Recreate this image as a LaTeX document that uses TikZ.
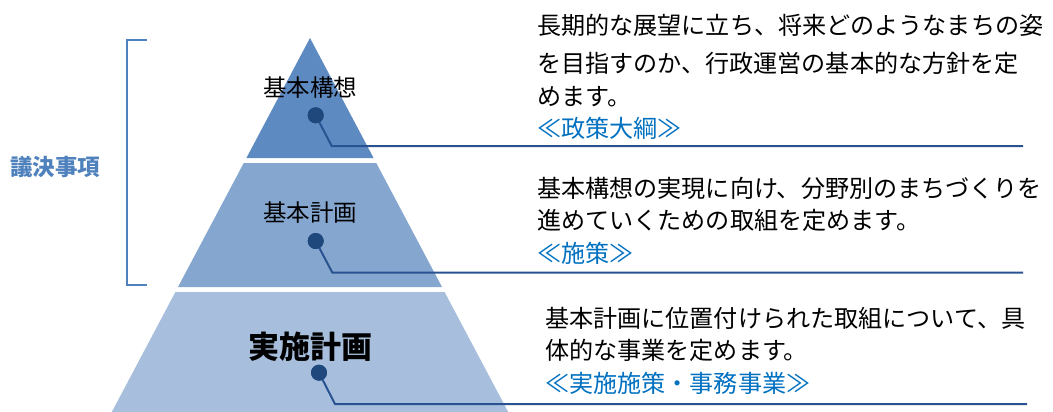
\documentclass[tikz,border=0pt]{standalone}
\usepackage{fontspec}
\setmainfont{Noto Sans CJK JP}
\begin{document}
\begin{tikzpicture}[x=1pt,y=-1pt,
  lvlA/.style={fill={rgb,255:red,94;green,138;blue,194}},
  lvlB/.style={fill={rgb,255:red,133;green,166;blue,206}},
  lvlC/.style={fill={rgb,255:red,167;green,191;blue,221}},
  dotnode/.style={circle,fill={rgb,255:red,31;green,73;blue,125},minimum size=16pt,inner sep=0pt},
  leader/.style={draw={rgb,255:red,41;green,82;blue,145},line width=2pt},
  bracketline/.style={draw={rgb,255:red,79;green,129;blue,189},line width=2pt},
  lvltxt/.style={font=\fontsize{23.5}{28}\selectfont,inner sep=0pt},
  desc/.style={font=\fontsize{24.1}{28}\selectfont,inner sep=0pt,anchor=west},
  tag/.style={desc,text={rgb,255:red,0;green,112;blue,192}}
]
\useasboundingbox (0,0) rectangle (1053,412);
% pyramid
\path[lvlA] (310,38) -- (373.6,158) -- (246.4,158) -- cycle;
\path[lvlB] (243.75,163) -- (376.25,163) -- (442,287) -- (178,287) -- cycle;
\path[lvlC] (175.4,292) -- (444.6,292) -- (508.2,412) -- (111.8,412) -- cycle;
% level labels
\node[lvltxt] (l1) at (310,88) {基本構想};
\node[lvltxt] (l2) at (310,213) {基本計画};
\node[lvltxt,font=\fontsize{31}{36}\selectfont\bfseries] (l3) at (310,346.5) {実施計画};
% dots and leaders
\node[dotnode] (d1) at (315.7,115.3) {};
\node[dotnode] (d2) at (315.7,241) {};
\node[dotnode] (d3) at (319,372.7) {};
\coordinate (b1) at (331.7,146);
\coordinate (e1) at (1023,146);
\coordinate (b2) at (332.3,272.5);
\coordinate (e2) at (1023,272.5);
\coordinate (b3) at (335,404);
\coordinate (e3) at (1027,404);
\draw[leader] (d1.center) -- (b1) -- (e1);
\draw[leader] (d2.center) -- (b2) -- (e2);
\draw[leader] (d3.center) -- (b3) -- (e3);
\node[dotnode] at (d1) {};
\node[dotnode] at (d2) {};
\node[dotnode] at (d3) {};
% bracket
\coordinate (k1) at (147,40);
\coordinate (k2) at (127,40);
\coordinate (k3) at (127,285);
\coordinate (k4) at (147,285);
\draw[bracketline] (k1) -- (k2) -- (k3) -- (k4);
\node[font=\fontsize{22.5}{26}\selectfont\bfseries,text={rgb,255:red,79;green,129;blue,189},inner sep=0pt] (dec) at (55,167) {議決事項};
% descriptions
\node[desc] (t1a) at (537,25.5) {長期的な展望に立ち、将来どのようなまちの姿};
\node[desc] (t1b) at (537,63) {を目指すのか、行政運営の基本的な方針を定};
\node[desc] (t1c) at (537,96.5) {めます。};
\node[tag] (t1d) at (537,128.5) {≪政策大綱≫};
\node[desc] (t2a) at (537,188.3) {基本構想の実現に向け、分野別のまちづくりを};
\node[desc] (t2b) at (537,220) {進めていくための取組を定めます。};
\node[tag] (t2c) at (537,253.3) {≪施策≫};
\node[desc] (t3a) at (545,318.3) {基本計画に位置付けられた取組について、具};
\node[desc] (t3b) at (545,350) {体的な事業を定めます。};
\node[tag] (t3c) at (545,383.3) {≪実施施策・事務事業≫};
\end{tikzpicture}
\end{document}
